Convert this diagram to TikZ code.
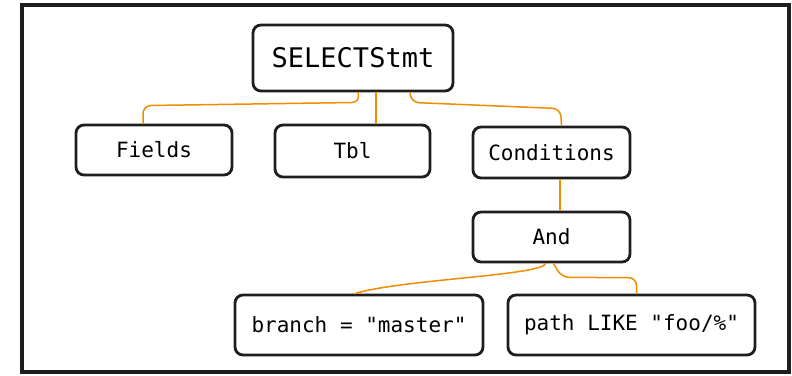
\documentclass[tikz,border=0pt]{standalone}
\usepackage{fontspec}
\newfontfamily\codefont{DejaVu Sans Mono}
\definecolor{edgeorange}{HTML}{F08C00}
\definecolor{ink}{HTML}{1E1E1E}
\begin{document}
\begin{tikzpicture}[x=1pt,y=-1pt,
  box/.style={draw=ink,line width=2.8pt,rounded corners=8pt,fill=white,
    inner sep=0pt,font=\codefont\fontsize{21}{24}\selectfont,text=black},
  conn/.style={draw=edgeorange,line width=1.5pt,line cap=round,line join=round}]
\useasboundingbox (0,0) rectangle (792,375);
\draw[ink,line width=3.5pt] (22,5) rectangle (789,372);
\node[box,minimum width=200pt,minimum height=66pt,font=\codefont\fontsize{27}{30}\selectfont] (sel) at (353,58) {SELECTStmt};
\node[box,minimum width=156pt,minimum height=50pt] (fields) at (154,150) {Fields};
\node[box,minimum width=155pt,minimum height=52pt] (tbl) at (352.5,151) {Tbl};
\node[box,minimum width=157pt,minimum height=51pt] (cond) at (551.5,152.5) {Conditions};
\node[box,minimum width=157pt,minimum height=50pt] (and) at (551.5,237) {And};
\node[box,minimum width=248pt,minimum height=60pt] (branch) at (359,325) {branch = "master"};
\node[box,minimum width=247pt,minimum height=60pt] (path) at (631.5,325) {path LIKE "foo/\%"};
\draw[conn,rounded corners=8pt] ([xshift=5pt]sel.south) -- ([xshift=7pt,yshift=-10pt]sel.south) -- ([xshift=-11pt,yshift=18pt]fields.north) -- ([xshift=-11pt]fields.north);
\draw[conn] ([xshift=23pt]sel.south) -- ([xshift=23.5pt]tbl.north);
\draw[conn,rounded corners=8pt] ([xshift=57pt]sel.south) -- ([xshift=58pt,yshift=-10pt]sel.south) -- ([xshift=9pt,yshift=17pt]cond.north) -- ([xshift=10pt]cond.north);
\draw[conn] ([xshift=8.5pt]cond.south) -- ([xshift=8.5pt]and.north);
\draw[conn] ([xshift=-6pt]and.south) .. controls ([xshift=-8pt,yshift=-12pt]and.south) and ([xshift=40pt,yshift=14pt]branch.north) .. ([xshift=-4pt]branch.north);
\draw[conn,rounded corners=8pt] ([xshift=2pt]and.south) -- ([xshift=10pt,yshift=-14pt]and.south) -- ([xshift=5pt,yshift=16pt]path.north) -- ([xshift=5pt]path.north);
\end{tikzpicture}
\end{document}
